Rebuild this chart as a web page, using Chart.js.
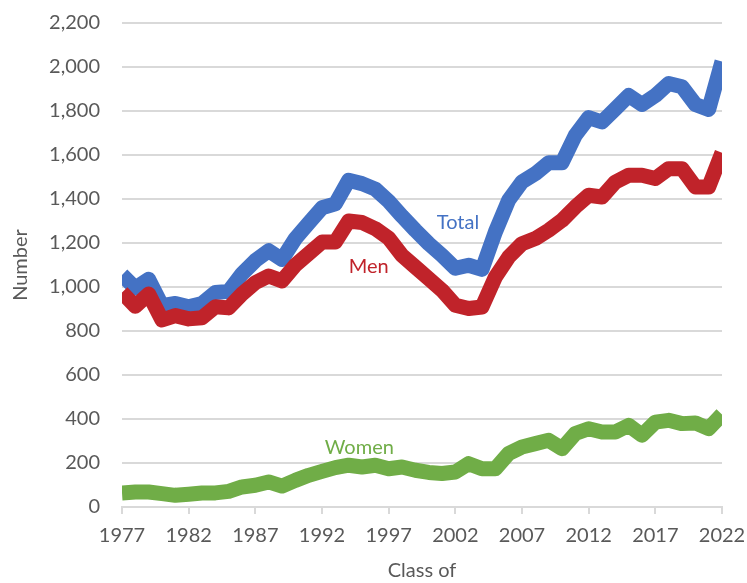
<!DOCTYPE html>
<html>
<head>
<meta charset="utf-8">
<script src="https://cdn.jsdelivr.net/npm/chart.js@4.4.1/dist/chart.umd.min.js"></script>
<style>
  html, body { margin: 0; padding: 0; background: #fff; }
  #wrap { width: 747px; height: 583px; position: relative; }
</style>
</head>
<body>
<div id="wrap"><canvas id="lineChart"></canvas></div>
<script>
// Graduating classes 1977..2022
const years = [
  1977, 1978, 1979, 1980, 1981, 1982, 1983, 1984, 1985, 1986,
  1987, 1988, 1989, 1990, 1991, 1992, 1993, 1994, 1995, 1996,
  1997, 1998, 1999, 2000, 2001, 2002, 2003, 2004, 2005, 2006,
  2007, 2008, 2009, 2010, 2011, 2012, 2013, 2014, 2015, 2016,
  2017, 2018, 2019, 2020, 2021, 2022
];

const total = [
  1055, 995, 1035, 915, 925, 910, 925, 975, 980, 1060,
  1120, 1165, 1125, 1220, 1290, 1360, 1378, 1485, 1470, 1445,
  1390, 1322, 1258, 1197, 1144, 1085, 1099, 1080, 1250, 1395,
  1478, 1515, 1565, 1565, 1690, 1770, 1750, 1810, 1870, 1830,
  1870, 1925, 1910, 1830, 1807, 2025
];

const men = [
  975, 912, 968, 850, 870, 855, 860, 910, 905, 968,
  1020, 1050, 1028, 1099, 1152, 1204, 1204, 1300, 1293, 1265,
  1222, 1144, 1091, 1038, 985, 917, 902, 909, 1045, 1136,
  1197, 1220, 1258, 1303, 1364, 1417, 1409, 1477, 1508, 1508,
  1493, 1538, 1538, 1455, 1455, 1610
];

const women = [
  64, 68, 68, 61, 53, 58, 64, 64, 71, 91,
  99, 114, 95, 121, 144, 162, 179, 190, 182, 190,
  174, 182, 167, 157, 152, 159, 197, 174, 174, 243,
  273, 288, 303, 265, 334, 356, 341, 341, 371, 326,
  386, 394, 379, 382, 356, 421
];

const FONT = 'Lato, "Open Sans", sans-serif';
const GREY = '#595959';
const GRID = '#d9d9d9';

// where the in-chart series names sit (year index, value)
const seriesLabels = [
  { text: 'Total', color: '#4472C4', at: [25.2, 1294] },
  { text: 'Men', color: '#C0232A', at: [18.5, 1094] },
  { text: 'Women', color: '#70AD47', at: [17.8, 271] }
];

const labelPlugin = {
    id: 'seriesLabels',
    afterDatasetsDraw(chart) {
        const ctx = chart.ctx;
        const x = chart.scales.x, y = chart.scales.y;
        ctx.save();
        ctx.font = '20px ' + FONT;
        ctx.textAlign = 'center';
        ctx.textBaseline = 'middle';
        seriesLabels.forEach(l => {
            ctx.fillStyle = l.color;
            ctx.fillText(l.text, x.getPixelForValue(l.at[0]), y.getPixelForValue(l.at[1]));
        });
        ctx.restore();
    }
};

const lineStyle = {
    fill: false,
    borderWidth: 15,
    pointRadius: 0,
    pointHoverRadius: 0,
    tension: 0,
    borderJoinStyle: 'round',
    borderCapStyle: 'butt',
    clip: { left: 0, right: 0, top: 12, bottom: 12 }
};

const config = {
    type: 'line',
    data: {
        labels: years,
        datasets: [
            { label: 'Men', data: men, borderColor: '#C0232A', ...lineStyle },
            { label: 'Total', data: total, borderColor: '#4472C4', ...lineStyle },
            { label: 'Women', data: women, borderColor: '#70AD47', ...lineStyle }
        ]
    },
    options: {
        responsive: true,
        maintainAspectRatio: false,
        animation: false,
        locale: 'en-US',
        layout: { padding: { left: 9, right: 25, top: 23, bottom: 0 } },
        plugins: {
            legend: { display: false },
            tooltip: { enabled: false }
        },
        scales: {
            x: {
                type: 'category',
                grid: {
                    drawOnChartArea: false,
                    tickLength: 7,
                    lineWidth: 2,
                    color: c => (c.index % 5 === 0 ? GRID : 'transparent')
                },
                border: { color: GRID, width: 2 },
                ticks: {
                    autoSkip: false,
                    maxRotation: 0,
                    padding: 10,
                    color: GREY,
                    font: { family: FONT, size: 20 },
                    callback: (v, i) => (i % 5 === 0 ? years[i] : '')
                },
                title: {
                    display: true,
                    text: 'Class of',
                    color: GREY,
                    font: { family: FONT, size: 20 },
                    padding: { top: 6, bottom: 0 }
                },
                afterFit: s => {
                    s.height = 76;
                    s.paddingLeft = 0;
                    s.paddingRight = 0;
                }
            },
            y: {
                min: 0,
                max: 2200,
                grid: { color: GRID, lineWidth: 2, drawTicks: false },
                border: { display: false },
                ticks: {
                    stepSize: 200,
                    padding: 22,
                    color: GREY,
                    font: { family: FONT, size: 20 }
                },
                title: {
                    display: true,
                    text: 'Number',
                    color: GREY,
                    font: { family: FONT, size: 20 },
                    padding: { top: 0, bottom: 0 }
                },
                afterFit: s => {
                    s.width = 113;
                    s.paddingTop = 0;
                    s.paddingBottom = 0;
                }
            }
        }
    },
    plugins: [labelPlugin]
};

new Chart(document.getElementById('lineChart'), config);
</script>
</body>
</html>
